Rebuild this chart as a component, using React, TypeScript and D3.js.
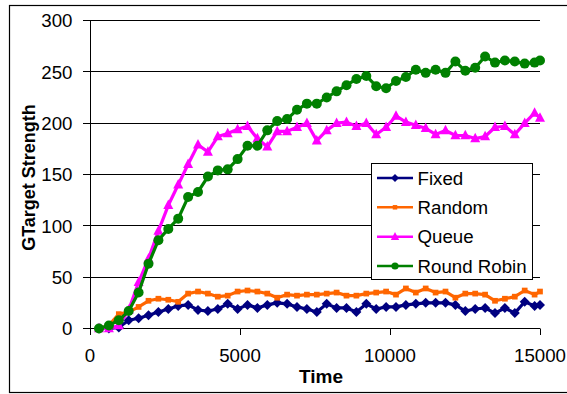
import React from "react";
import * as d3 from "d3";

// sample times (x) shared by every series
const times = [
  300, 630, 960, 1290, 1620, 1950, 2280, 2610, 2940, 3270, 3600, 3930, 4260, 4590, 4920,
  5250, 5580, 5910, 6240, 6570, 6900, 7230, 7560, 7890, 8220, 8550, 8880, 9210, 9540, 9870,
  10200, 10530, 10860, 11190, 11520, 11850, 12180, 12510, 12840, 13170, 13500, 13830, 14160,
  14490, 14820, 15000,
];

const fixed = [
  0, 0, 1, 8, 10, 13, 16, 19, 22, 23, 18, 17, 19, 24, 19, 23, 20, 23, 25, 24, 21, 19, 16,
  24, 20, 20, 16, 24, 19, 21, 21, 23, 24, 25, 25, 25, 23, 17, 19, 20, 15, 20, 15, 26, 22, 23,
];
const random = [
  0, 3, 14, 16, 21, 27, 29, 28, 26, 34, 36, 34, 31, 32, 36, 37, 36, 34, 30, 33, 32, 33, 33,
  34, 35, 32, 32, 34, 35, 36, 33, 39, 35, 39, 35, 36, 30, 34, 34, 33, 27, 29, 31, 37, 33, 36,
];
const queue = [
  0, 0, 3, 18, 45, 68, 95, 120, 140, 160, 179, 172, 187, 190, 194, 197, 185, 177, 192, 192,
  196, 200, 183, 193, 200, 201, 197, 200, 189, 196, 207, 201, 198, 195, 189, 193, 188, 188,
  185, 187, 196, 197, 189, 200, 210, 205,
];
const roundRobin = [
  0, 3, 8, 17, 35, 63, 86, 97, 107, 128, 133, 148, 154, 155, 165, 178, 178, 193, 202, 204,
  213, 219, 219, 225, 231, 237, 243, 246, 236, 234, 241, 245, 252, 249, 252, 249, 260, 251,
  254, 265, 259, 261, 260, 258, 259, 261,
];

const seriesNames = ["Fixed", "Random", "Queue", "Round Robin"];
const xTicks = [0, 5000, 10000, 15000];
const yTicks = [0, 50, 100, 150, 200, 250, 300];

const series = [
  { name: seriesNames[0], values: fixed, color: "#000080", shape: "diamond" },
  { name: seriesNames[1], values: random, color: "#FF6600", shape: "square" },
  { name: seriesNames[2], values: queue, color: "#FF00FF", shape: "triangle" },
  { name: seriesNames[3], values: roundRobin, color: "#008000", shape: "circle" },
];

const font = "'Liberation Sans', Arial, sans-serif";

function Marker({ shape, x, y, s, color }: any) {
  if (shape === "circle") return <circle cx={x} cy={y} r={s} fill={color} />;
  if (shape === "square")
    return <rect x={x - s * 0.75} y={y - s * 0.75} width={s * 1.5} height={s * 1.5} fill={color} />;
  if (shape === "diamond")
    return <path d={`M${x},${y - s}L${x + s},${y}L${x},${y + s}L${x - s},${y}Z`} fill={color} />;
  // triangle
  const h = s * 1.9;
  return (
    <path d={`M${x},${y - h * 0.6}L${x + s},${y + h * 0.4}L${x - s},${y + h * 0.4}Z`} fill={color} />
  );
}

const crisp = (v: number) => Math.round(v - 0.5) + 0.5;

export default function App() {
  const x = d3.scaleLinear().domain([0, 15000]).range([90, 540]);
  const y = d3.scaleLinear().domain([0, 300]).range([328.5, 20.5]);

  const line = d3
    .line<number>()
    .x((_, i) => x(times[i]))
    .y((d) => y(d));

  const sizes: any = { diamond: 5, square: 3.8, triangle: 5, circle: 5 };
  const legendSizes: any = { diamond: 4, square: 3, triangle: 4.2, circle: 3.6 };
  const legendRows = [178, 207.3, 236.7, 266];

  return (
    <svg
      width={567}
      height={394}
      style={{ position: "absolute", left: 0, top: 0, background: "#fff" }}
      fontFamily={font}
    >
      <rect x={9.5} y={5.5} width={600} height={387} fill="#fff" stroke="#000" strokeWidth={1.2} />

      {/* gridlines */}
      {yTicks
        .filter((t) => t > 0)
        .map((t) => (
          <line key={t} x1={90} x2={540} y1={crisp(y(t))} y2={crisp(y(t))} stroke="#000" strokeWidth={1} />
        ))}

      {/* axes */}
      <line x1={90.5} x2={90.5} y1={20.5} y2={328.5} stroke="#000" />
      <line x1={90} x2={540} y1={328.5} y2={328.5} stroke="#000" />
      {yTicks.map((t) => (
        <g key={t}>
          <line x1={83} x2={90} y1={crisp(y(t))} y2={crisp(y(t))} stroke="#000" />
          <text x={72.5} y={y(t) + 6.7} textAnchor="end" fontSize={18.7}>
            {t}
          </text>
        </g>
      ))}
      {xTicks.map((t) => (
        <g key={t}>
          <line x1={crisp(x(t))} x2={crisp(x(t))} y1={328.5} y2={335} stroke="#000" />
          <text x={x(t)} y={361.5} textAnchor="middle" fontSize={18.7}>
            {t}
          </text>
        </g>
      ))}
      <text x={321} y={383} textAnchor="middle" fontSize={19} fontWeight="bold">
        Time
      </text>
      <text
        transform="translate(34.5,177.5) rotate(-90)"
        textAnchor="middle"
        fontSize={18}
        fontWeight="bold"
      >
        GTarget Strength
      </text>

      {/* series */}
      {series.map((s) => (
        <g key={s.name}>
          <path d={line(s.values) || ""} fill="none" stroke={s.color} strokeWidth={3.2} strokeLinejoin="round" />
          {s.values.map((v, i) => (
            <Marker key={i} shape={s.shape} x={x(times[i])} y={y(v)} s={sizes[s.shape]} color={s.color} />
          ))}
        </g>
      ))}

      {/* legend */}
      <rect x={371.5} y={163.5} width={161} height={116} fill="#fff" stroke="#000" strokeWidth={1} />
      {series.map((s, i) => (
        <g key={s.name}>
          <line x1={377} x2={413} y1={legendRows[i]} y2={legendRows[i]} stroke={s.color} strokeWidth={2.6} />
          <Marker shape={s.shape} x={395} y={legendRows[i]} s={legendSizes[s.shape]} color={s.color} />
          <text x={417.5} y={legendRows[i] + 6.7} fontSize={18.7}>
            {s.name}
          </text>
        </g>
      ))}
    </svg>
  );
}
